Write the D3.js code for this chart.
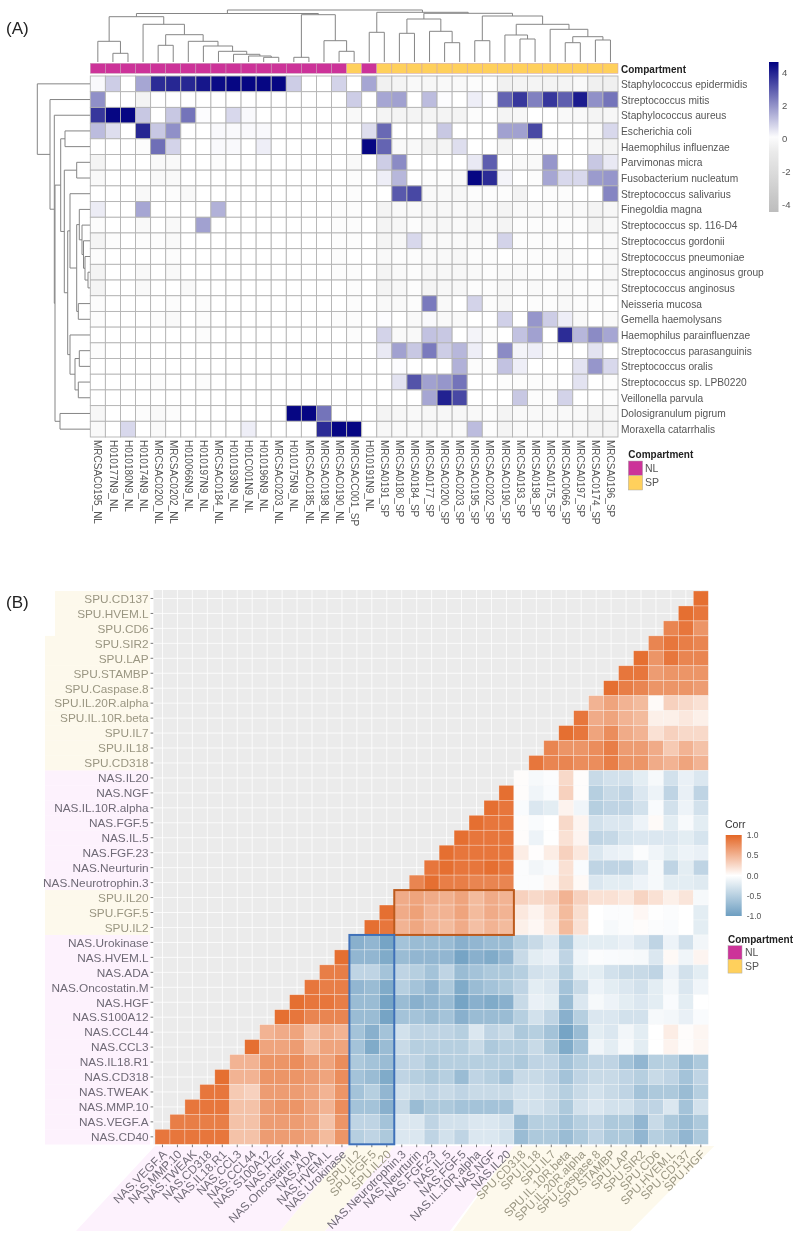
<!DOCTYPE html>
<html><head><meta charset="utf-8">
<script src="https://d3js.org/d3.v7.min.js"></script>
<style>html,body{margin:0;padding:0;background:#fff}svg{display:block;filter:blur(0.4px)}text{font-family:"Liberation Sans",Arial,sans-serif}</style>
</head><body><div id="c"></div>
<script>
// ---------- Panel A data ----------
const sampleLabels=["MRCSAC0195_NL","H010177N9_NL","H010180N9_NL","H010174N9_NL","MRCSAC0200_NL","MRCSAC0202_NL","H010066N9_NL","H010197N9_NL","MRCSAC0184_NL","H010193N9_NL","H01C001N9_NL","H010196N9_NL","MRCSAC0203_NL","H010175N9_NL","MRCSAC0185_NL","MRCSAC0198_NL","MRCSAC0190_NL","MRCSACC001_SP","H010191N9_NL","MRCSA0191_SP","MRCSA0180_SP","MRCSA0184_SP","MRCSA0177_SP","MRCSAC0200_SP","MRCSAC0203_SP","MRCSAC0195_SP","MRCSAC0202_SP","MRCSAC0190_SP","MRCSA0193_SP","MRCSA0198_SP","MRCSA0175_SP","MRCSAC0066_SP","MRCSA0197_SP","MRCSAC0174_SP","MRCSA0196_SP"];
const speciesLabels=["Staphylococcus epidermidis","Streptococcus mitis","Staphylococcus aureus","Escherichia coli","Haemophilus influenzae","Parvimonas micra","Fusobacterium nucleatum","Streptococcus salivarius","Finegoldia magna","Streptococcus sp. 116-D4","Streptococcus gordonii","Streptococcus pneumoniae","Streptococcus anginosus group","Streptococcus anginosus","Neisseria mucosa","Gemella haemolysans","Haemophilus parainfluenzae","Streptococcus parasanguinis","Streptococcus oralis","Streptococcus sp. LPB0220","Veillonella parvula","Dolosigranulum pigrum","Moraxella catarrhalis"];
const abundance=[
[.1,.9,0,1.6,3.8,3.9,3.9,4.2,4.4,4.5,4.5,4.5,4.5,.9,0,0,.8,0,1.6,-.25,-.2,-.1,-.15,-.1,-.1,-.05,-.05,-.25,-.2,-.2,-.2,-.2,-.1,-.3,-.3],
[2,0,0,-.2,0,0,0,0,0,0,0,0,0,0,0,0,0,.9,0,1.6,1.7,0,1.2,.05,0,.3,.05,2.8,3.6,2.3,3.6,2.9,4.1,2,2.5],
[3.6,4.5,4.5,1,0,1,2.5,.05,0,.7,.1,0,0,0,0,0,0,-.1,0,-.2,-.2,-.2,-.2,-.2,-.2,-.05,0,-.2,-.15,0,0,-.1,-.1,-.2,-.15],
[1.2,.6,0,3.9,1,2,0,0,.1,.1,.1,.1,0,0,0,0,0,0,.6,2.7,0,0,-.05,1,0,0,0,1.7,1.7,3.3,0,0,0,-.1,.7],
[0,0,0,-.05,2.6,.8,0,0,.1,.1,0,.3,0,0,0,0,0,0,4.5,2.8,-.1,-.1,-.25,-.2,.6,0,0,-.2,0,-.05,-.05,0,0,-.15,-.2],
[-.2,0,0,0,-.1,-.1,0,0,-.05,0,0,0,0,0,0,0,0,-.1,0,.9,2.1,0,0,0,0,.4,2.9,0,-.1,-.1,1.9,0,0,1,.4],
[-.1,0,0,0,-.1,-.1,0,0,0,0,0,0,0,0,0,0,0,-.05,0,.3,1.3,0,-.05,-.05,-.1,4.5,3.8,.2,0,-.05,1.6,.7,.7,1.8,1.9],
[0,0,0,-.1,0,-.05,-.1,0,0,0,0,0,0,0,0,0,0,-.05,0,0,3,3.3,-.1,-.1,-.15,-.05,-.05,-.05,-.2,0,-.05,-.05,0,0,2.2],
[.35,0,0,1.6,0,0,0,0,1.4,0,0,0,0,0,0,0,-.05,-.05,0,-.2,-.1,-.1,-.15,-.15,-.1,-.15,-.1,-.2,-.1,-.1,-.05,-.1,-.1,-.2,-.15],
[-.05,0,0,-.1,0,-.1,0,1.7,0,0,0,0,0,0,0,0,-.05,-.05,0,-.2,-.15,-.05,-.15,-.15,-.1,-.15,-.1,-.2,-.05,-.05,-.05,-.05,-.05,-.2,-.1],
[-.2,-.05,0,-.05,-.05,-.1,0,0,0,0,0,0,0,0,0,0,-.05,-.05,0,-.2,-.15,.7,-.1,-.1,-.1,-.1,-.05,.8,-.05,-.05,-.05,-.05,0,0,-.1],
[-.05,0,0,0,0,-.05,0,0,0,0,0,0,0,0,0,0,-.05,0,0,-.1,-.05,-.05,-.1,-.1,-.15,-.05,-.05,0,-.05,-.05,-.05,-.1,0,0,-.1],
[-.2,0,0,-.1,0,-.1,0,0,0,0,0,0,0,0,0,0,-.05,-.05,0,-.2,-.1,-.05,-.15,-.15,-.15,-.1,-.05,-.1,-.1,-.05,-.05,-.1,-.05,0,-.15],
[-.2,0,0,-.1,0,0,-.1,0,0,0,0,0,0,0,0,0,0,-.05,0,-.2,-.15,-.05,-.2,-.15,-.15,-.05,-.05,-.15,-.05,-.1,-.05,-.1,-.05,-.05,-.1],
[-.05,0,0,0,0,-.05,0,-.05,0,0,0,0,0,0,0,0,0,-.05,0,-.1,-.1,-.05,2.4,-.1,0,.8,-.05,-.15,0,-.05,-.05,-.1,-.05,-.05,0],
[-.05,0,0,0,-.05,-.1,0,-.05,0,0,0,0,0,0,0,0,-.05,-.05,0,.05,0,-.1,.1,-.1,-.1,0,0,.85,0,1.9,.9,.3,-.1,0,-.1],
[0,0,0,0,0,0,0,-.05,0,0,0,0,0,0,0,0,0,-.05,0,.8,-.1,-.1,1.1,1,0,.2,-.05,0,1.1,1.7,0,3.8,1.3,2.1,1.6],
[-.05,0,0,0,0,0,0,0,0,0,0,0,0,0,0,0,0,0,0,.4,1.7,1,2.4,.9,1.3,.3,0,2.1,.2,.3,-.05,0,0,.5,0],
[0,0,0,0,0,0,0,0,0,0,0,0,0,0,0,0,0,0,0,0,.05,0,0,0,1.4,-.05,-.05,1.1,.3,0,0,0,.5,1.9,.7],
[0,0,0,0,-.05,0,0,-.05,0,0,0,0,0,0,0,0,0,0,0,0,.5,3.1,1.7,1.9,2.5,0,0,-.05,-.05,-.05,-.05,0,.5,0,-.05],
[0,0,0,0,0,0,0,0,0,0,0,0,0,0,0,0,0,0,0,0,0,0,1.6,4,3.3,0,0,0,1,-.05,-.05,.8,0,0,-.05],
[-.15,0,0,-.05,-.1,-.05,0,0,0,0,0,0,0,4.5,4.5,2.5,0,0,0,-.2,-.15,-.1,-.15,-.15,-.15,-.1,-.05,-.2,-.1,-.1,-.1,-.1,-.1,-.2,-.15],
[-.1,0,.7,0,-.1,0,0,0,0,0,.3,0,0,0,0,3.8,4.5,4.5,0,-.15,-.1,-.1,-.15,-.1,-.1,1.2,-.05,-.2,-.1,-.1,-.1,-.1,-.15,-.2,-.2]];
const compartmentOfSample=["NL","NL","NL","NL","NL","NL","NL","NL","NL","NL","NL","NL","NL","NL","NL","NL","NL","SP","NL","SP","SP","SP","SP","SP","SP","SP","SP","SP","SP","SP","SP","SP","SP","SP","SP"];
// dendrogram merges as in hclust: positive = leaf index, negative = earlier merge (1-based); third = height
const columnMerges=[[1,2,8.7],[0,-1,20.7],[4,5,16.7],[11,12,4.7],[10,-4,6],[9,-5,7.7],[8,-6,10.7],[7,-7,16],[6,-8,20.7],[-3,-9,27.3],[3,-10,37.7],[-2,-11,45.3],[13,14,4.7],[16,17,10.7],[15,-14,21.3],[-13,-15,47.3],[-12,-16,48.5],[18,19,29.7],[20,21,28.7],[23,24,19.3],[22,-20,30.7],[-19,-21,43],[25,26,21.3],[28,29,23],[27,-24,27],[31,32,19.3],[33,34,22],[-26,-27,25.3],[30,-28,32.7],[-25,-29,37.7],[-23,-30,46],[-22,-31,48.7],[-18,-32,49.7],[-17,-33,52]];
const rowMerges=[[3,4,25],[5,6,13.3],[12,13,2],[11,-3,5],[10,-4,6.5],[9,-5,8],[8,-6,10.7],[14,15,11.7],[-7,-8,13.3],[7,-9,20],[17,18,10.7],[19,20,11.7],[-11,-12,15],[16,-13,20],[-10,-14,22.3],[-2,-15,25.7],[-1,-16,29.3],[21,22,30],[-17,-18,35],[2,-19,35.7],[1,-20,40],[0,-21,52.7]];
const abundanceTicks=[4,2,0,-2,-4];
const compartmentLevels=["NL","SP"];
const corrTicks=[1,.5,0,-.5,-1];
// ---------- Panel B data ----------
const corrCols=["NAS.VEGF.A","NAS.MMP.10","NAS.TWEAK","NAS.CD318","NAS.IL18.R1","NAS.CCL3","NAS.CCL44","NAS.S100A12","NAS.HGF","NAS.Oncostatin.M","NAS.ADA","NAS.HVEM.L","NAS.Urokinase","SPU.IL2","SPU.FGF.5","SPU.IL20","NAS.Neurotrophin.3","NAS.Neurturin","NAS.FGF.23","NAS.IL.5","NAS.FGF.5","NAS.IL.10R.alpha","NAS.NGF","NAS.IL20","SPU.CD318","SPU.IL18","SPU.IL7","SPU.IL.10R.beta","SPU.IL.20R.alpha","SPU.Caspase.8","SPU.STAMBP","SPU.LAP","SPU.SIR2","SPU.CD6","SPU.HVEM.L","SPU.CD137","SPU.HGF"];
const corrRowLabels=["SPU.CD137","SPU.HVEM.L","SPU.CD6","SPU.SIR2","SPU.LAP","SPU.STAMBP","SPU.Caspase.8","SPU.IL.20R.alpha","SPU.IL.10R.beta","SPU.IL7","SPU.IL18","SPU.CD318","NAS.IL20","NAS.NGF","NAS.IL.10R.alpha","NAS.FGF.5","NAS.IL.5","NAS.FGF.23","NAS.Neurturin","NAS.Neurotrophin.3","SPU.IL20","SPU.FGF.5","SPU.IL2","NAS.Urokinase","NAS.HVEM.L","NAS.ADA","NAS.Oncostatin.M","NAS.HGF","NAS.S100A12","NAS.CCL44","NAS.CCL3","NAS.IL18.R1","NAS.CD318","NAS.TWEAK","NAS.MMP.10","NAS.VEGF.A","NAS.CD40"];
// each row lists the right-hand end of the triangle: last value = last column
const corrRows=[
[.95],
[.95,.9],
[.8,.9,.7],
[.8,.9,.85,.8],
[.95,.7,.9,.8,.8],
[.9,.9,.65,.7,.7,.7],
[.95,.85,.8,.7,.7,.7,.65],
[.5,.6,.5,.45,.03,.3,.25,.2],
[.9,.55,.6,.5,.45,.1,.1,.15,.1],
[.95,.9,.6,.75,.55,.5,.2,.3,.25,.25],
[.8,.7,.7,.75,.85,.65,.65,.55,.35,.5,.4],
[.9,.8,.8,.75,.75,.85,.7,.7,.55,.5,.6,.5],
[.02,-.06,-.03,.25,.02,-.38,-.31,-.31,-.19,-.06,-.31,-.15,-.25],
[.95,.02,-.1,-.04,.3,.02,-.5,-.38,-.44,-.25,-.12,-.44,-.15,-.44],
[.95,.9,-.04,-.25,-.19,.08,-.1,-.5,-.44,-.44,-.31,-.04,-.31,-.12,-.31],
[.95,.9,.9,.02,-.04,0,.25,.07,-.31,-.25,-.25,-.12,.03,-.19,-.05,-.19],
[.95,.9,.9,.9,.02,-.12,-.01,.2,.07,-.44,-.4,-.28,-.25,-.25,-.25,-.19,-.28],
[.95,.9,.9,.9,.9,.12,.01,.12,.3,.15,-.25,-.15,-.12,-.03,-.1,-.19,-.12,-.15],
[.9,.95,.9,.9,.95,.9,-.03,-.09,-.05,.2,-.04,-.44,-.44,-.44,-.25,-.06,-.44,-.19,-.44],
[.8,.95,.85,.85,.8,.8,.8,-.03,-.03,.06,.22,.04,-.25,-.19,-.19,-.12,-.06,-.19,-.19,-.22],
[.55,.6,.55,.52,.6,.45,.55,.5,.3,.25,.3,.5,.3,.2,.2,.15,.28,.2,.1,.17,-.06],
[.95,.55,.62,.5,.5,.6,.45,.55,.5,.15,.08,.2,.45,.22,0,-.03,-.03,.05,-.01,-.03,0,-.19],
[.95,.9,.5,.58,.5,.45,.55,.42,.5,.45,.1,.05,.15,.45,.2,0,-.06,-.03,.02,-.03,-.04,0,-.19],
[-.81,-.75,-.94,-.62,-.69,-.69,-.69,-.81,-.75,-.69,-.69,-.5,-.38,-.25,-.56,-.19,-.19,-.19,-.15,-.25,-.44,-.12,-.31,-.09],
[.95,-.75,-.75,-.87,-.69,-.75,-.75,-.75,-.94,-.81,-.87,-.75,-.38,-.19,-.15,-.44,-.1,-.03,-.04,-.05,-.06,-.25,.04,-.1,.07],
[.85,.85,-.44,-.44,-.62,-.44,-.5,-.62,-.44,-.69,-.62,-.56,-.56,-.5,-.31,-.28,-.5,-.19,-.19,-.31,-.38,-.38,-.44,-.12,-.31,-.19],
[.9,.85,.85,-.75,-.69,-.87,-.5,-.62,-.75,-.56,-.87,-.69,-.62,-.56,-.44,-.19,-.25,-.62,-.38,-.12,-.19,-.25,-.31,-.19,-.08,-.25,-.1],
[.95,.9,.9,.85,-.69,-.69,-.94,-.69,-.81,-.75,-.69,-.94,-.81,-.87,-.81,-.38,-.15,-.19,-.69,-.25,-.06,-.12,-.19,-.25,-.19,-.04,-.19,0],
[.95,.9,.8,.8,.8,-.69,-.69,-.94,-.62,-.62,-.69,-.62,-.81,-.69,-.69,-.69,-.5,-.31,-.44,-.81,-.5,-.25,-.25,-.31,-.31,-.06,-.08,-.15,-.04],
[.5,.55,.6,.4,.55,.5,-.62,-.81,-.62,-.31,-.44,-.44,-.44,-.5,-.25,-.44,-.38,-.56,-.5,-.62,-.94,-.69,-.19,-.25,-.09,-.19,0,.12,.02,.06],
[.95,.6,.6,.65,.45,.6,.6,-.62,-.87,-.69,-.38,-.5,-.5,-.5,-.5,-.38,-.56,-.5,-.5,-.38,-.56,-.87,-.62,-.1,-.19,-.06,-.19,0,.08,.02,.06],
[.5,.5,.7,.7,.75,.65,.6,.75,-.56,-.62,-.69,-.44,-.44,-.56,-.5,-.5,-.5,-.5,-.5,-.56,-.44,-.44,-.62,-.5,-.44,-.44,-.62,-.75,-.5,-.5,-.69,-.56],
[.95,.5,.5,.7,.7,.7,.65,.6,.75,-.62,-.69,-.87,-.44,-.5,-.56,-.5,-.69,-.44,-.5,-.62,-.38,-.38,-.44,-.62,-.44,-.38,-.38,-.44,-.5,-.38,-.44,-.62,-.44],
[.9,.9,.35,.3,.65,.65,.65,.6,.5,.7,-.62,-.5,-.75,-.31,-.38,-.44,-.38,-.44,-.38,-.38,-.38,-.31,-.31,-.38,-.5,-.38,-.31,-.38,-.44,-.62,-.56,-.56,-.69,-.5],
[.9,.9,.9,.4,.4,.65,.7,.7,.6,.5,.75,-.62,-.62,-.81,-.38,-.69,-.56,-.56,-.62,-.62,-.62,-.62,-.31,-.31,-.38,-.56,-.31,-.25,-.31,-.31,-.44,-.44,-.25,-.62,-.31],
[.85,.85,.85,.85,.4,.4,.65,.65,.65,.6,.4,.7,-.44,-.44,-.62,-.25,-.25,-.44,-.31,-.31,-.25,-.25,-.31,-.69,-.5,-.5,-.62,-.5,-.44,-.56,-.56,-.75,-.38,-.56,-.69,-.56],
[.9,.9,.9,.9,.9,.4,.4,.65,.65,.65,.6,.45,.7,-.5,-.44,-.56,-.25,-.25,-.44,-.31,-.44,-.25,-.25,-.31,-.69,-.56,-.56,-.69,-.56,-.44,-.56,-.56,-.75,-.5,-.56,-.75,-.56]];

const W=800,H=1240;
const svg=d3.select("#c").append("svg").attr("width",W).attr("height",H).attr("viewBox",`0 0 ${W} ${H}`);
const gray="#555";
// ---------- Panel A ----------
const NLc="#cc3399",SPc="#ffd05c",line="#b4b4b4";
const xA=d3.scaleBand().domain(d3.range(sampleLabels.length)).range([90.3,618]);
const yA=d3.scaleBand().domain(d3.range(speciesLabels.length)).range([76,437]);
const colA=d3.scaleLinear().domain([-4.6,-.25,0,4.6]).range(["#bcbcbc","#f1f1f1","#ffffff","#000080"]);
const catCol=d3.scaleOrdinal().domain(compartmentLevels).range([NLc,SPc]);
svg.append("text").attr("x",6).attr("y",34).attr("font-size",17).attr("fill","#222").text("(A)");
// heat cells
const cellsA=svg.append("g");
abundance.forEach((row,r)=>row.forEach((v,c)=>{
  cellsA.append("rect").attr("x",xA(c)).attr("y",yA(r)).attr("width",xA.bandwidth()).attr("height",yA.bandwidth())
    .attr("fill",colA(v)).attr("stroke",line).attr("stroke-width",.9);
}));
// annotation bar
svg.append("g").selectAll("rect").data(compartmentOfSample).join("rect")
  .attr("x",(d,i)=>xA(i)).attr("y",63.3).attr("width",xA.bandwidth()).attr("height",10)
  .attr("fill",d=>catCol(d)).attr("stroke","#c9a0b8").attr("stroke-width",.5);
svg.append("text").attr("x",621).attr("y",72.5).attr("font-size",10).attr("font-weight","bold").attr("fill","#222").text("Compartment");
// row labels
svg.append("g").selectAll("text").data(speciesLabels).join("text")
  .attr("x",621).attr("y",(d,i)=>yA(i)+yA.bandwidth()/2+4).attr("font-size",10.2).attr("fill",gray).text(d=>d);
// column labels
svg.append("g").selectAll("text").data(sampleLabels).join("text")
  .attr("transform",(d,i)=>`translate(${xA(i)+xA.bandwidth()/2-3.4},440) rotate(90)`)
  .attr("font-size",10).attr("fill",gray).text(d=>d);
// dendrograms
function layoutDend(merges,pos){
  const nodes=[];
  const at=k=>k>=0?{p:pos(k),h:0}:nodes[-k-1];
  merges.forEach(([a,b,h])=>{const A=at(a),B=at(b);nodes.push({a:A,b:B,h,p:(A.p+B.p)/2});});
  return nodes;
}
const hTop=d3.scaleLinear().domain([0,52]).range([62,10]);
const dTop=d3.path();
layoutDend(columnMerges,i=>xA(i)+xA.bandwidth()/2).forEach(n=>{
  dTop.moveTo(n.a.p,hTop(n.a.h));dTop.lineTo(n.a.p,hTop(n.h));dTop.lineTo(n.b.p,hTop(n.h));dTop.lineTo(n.b.p,hTop(n.b.h));
});
svg.append("path").attr("d",dTop.toString()).attr("fill","none").attr("stroke","#858585").attr("stroke-width",1);
const hLeft=d3.scaleLinear().domain([0,52.7]).range([90,37.3]);
const dLeft=d3.path();
layoutDend(rowMerges,i=>yA(i)+yA.bandwidth()/2).forEach(n=>{
  dLeft.moveTo(hLeft(n.a.h),n.a.p);dLeft.lineTo(hLeft(n.h),n.a.p);dLeft.lineTo(hLeft(n.h),n.b.p);dLeft.lineTo(hLeft(n.b.h),n.b.p);
});
svg.append("path").attr("d",dLeft.toString()).attr("fill","none").attr("stroke","#858585").attr("stroke-width",1);
// legends A
const defs=svg.append("defs");
const scaleLegA=d3.scaleLinear().domain([4,-4]).range([72,204]);
const gA=defs.append("linearGradient").attr("id","gA").attr("x1",0).attr("x2",0).attr("y1",0).attr("y2",1);
d3.range(0,1.0001,.1).forEach(t=>{const v=scaleLegA.invert(62+150*t);gA.append("stop").attr("offset",t).attr("stop-color",colA(v));});
svg.append("rect").attr("x",769).attr("y",62).attr("width",9.5).attr("height",150).attr("fill","url(#gA)");
svg.append("g").selectAll("text").data(abundanceTicks).join("text").attr("x",782).attr("y",d=>scaleLegA(d)+3.5)
  .attr("font-size",9.5).attr("fill",gray).text(d=>d);
function catLegend(x,titleY,top,step,sw,lx){
  svg.append("text").attr("x",x).attr("y",titleY).attr("font-size",10).attr("font-weight","bold").attr("fill","#222").text("Compartment");
  compartmentLevels.forEach((c,i)=>{
    svg.append("rect").attr("x",x).attr("y",top+i*step).attr("width",sw).attr("height",step).attr("fill",catCol(c)).attr("stroke","#aaa").attr("stroke-width",.5);
    svg.append("text").attr("x",lx).attr("y",top+i*step+step/2+3.5).attr("font-size",10.5).attr("fill",gray).text(c);
  });
}
catLegend(628.3,457.5,461,14.5,14.3,645);
// ---------- Panel B ----------
svg.append("text").attr("x",6).attr("y",608).attr("font-size",17).attr("fill","#222").text("(B)");
const xB=d3.scaleBand().domain(corrCols.map((d,i)=>i)).range([155,708.3]);
const yB=d3.scaleBand().domain(corrRowLabels.map((d,i)=>i)).range([591,1144.3]);
const colB=d3.scaleLinear().domain([-1,0,1]).range(["#6D9EC1","#ffffff","#E46726"]);
const nasBg="#fdf2fd",spuBg="#fdf9ec";
const isNas=s=>s.startsWith("NAS");
// highlight strips behind y labels
corrRowLabels.forEach((s,i)=>{
  const lft=i<3?55:45;
  svg.append("rect").attr("x",lft).attr("y",yB(i)).attr("width",150-lft).attr("height",yB.bandwidth()+.2).attr("fill",isNas(s)?nasBg:spuBg);
});
// highlight strips behind x labels
const bot=1231,topS=1146;
[[0,13,79,69,nasBg],[13,16,69,69,spuBg],[16,24,69,64,nasBg],[24,37,61,84,spuBg]].forEach(([a,b,sl,sr,f])=>{
  const x0=xB(a),x1=b<37?xB(b):708.3+6;
  svg.append("path").attr("d",d3.line()([[x0,topS],[x1,topS],[x1-sr,bot],[x0-sl,bot]])).attr("fill",f);
});
// panel and grid
svg.append("rect").attr("x",153.5).attr("y",590).attr("width",554.8).attr("height",554.3).attr("fill","#ebebeb");
const gridG=svg.append("g").attr("stroke","#fff").attr("stroke-width",.8);
corrCols.forEach((d,i)=>gridG.append("line").attr("x1",xB(i)+xB.bandwidth()/2).attr("x2",xB(i)+xB.bandwidth()/2).attr("y1",590).attr("y2",1144.3));
corrRowLabels.forEach((d,i)=>gridG.append("line").attr("y1",yB(i)+yB.bandwidth()/2).attr("y2",yB(i)+yB.bandwidth()/2).attr("x1",153.5).attr("x2",708.3));
// cells
const cellsB=svg.append("g");
corrRows.forEach((row,r)=>row.forEach((v,k)=>{
  const c=corrCols.length-row.length+k;
  cellsB.append("rect").attr("x",xB(c)).attr("y",yB(r)).attr("width",xB.bandwidth()).attr("height",yB.bandwidth())
    .attr("fill",colB(v)).attr("stroke","rgba(255,255,255,.45)").attr("stroke-width",.6);
}));
// ticks and labels
const nasText="#6f6a76",spuText="#9a9682";
const yTicks=svg.append("g").attr("stroke","#555").attr("stroke-width",.8);
corrRowLabels.forEach((d,i)=>yTicks.append("line").attr("x1",150.6).attr("x2",153.2).attr("y1",yB(i)+yB.bandwidth()/2).attr("y2",yB(i)+yB.bandwidth()/2));
const xTicks=svg.append("g").attr("stroke","#555").attr("stroke-width",.8);
corrCols.forEach((d,i)=>xTicks.append("line").attr("y1",1144.6).attr("y2",1147.2).attr("x1",xB(i)+xB.bandwidth()/2).attr("x2",xB(i)+xB.bandwidth()/2));
svg.append("g").selectAll("text").data(corrRowLabels).join("text")
  .attr("x",148.6).attr("y",(d,i)=>yB(i)+yB.bandwidth()/2+4.3).attr("text-anchor","end").attr("font-size",11.8)
  .attr("fill",d=>isNas(d)?nasText:spuText).text(d=>d);
svg.append("g").selectAll("text").data(corrCols).join("text")
  .attr("transform",(d,i)=>`translate(${xB(i)+xB.bandwidth()/2+5},1155) rotate(-45)`)
  .attr("text-anchor","end").attr("font-size",11.8).attr("fill",d=>isNas(d)?nasText:spuText).text(d=>d);
// boxes
svg.append("rect").attr("x",xB(16)).attr("y",yB(20)).attr("width",xB(24)-xB(16)).attr("height",yB(23)-yB(20))
  .attr("fill","none").attr("stroke","#bd5a1c").attr("stroke-width",2);
svg.append("rect").attr("x",xB(13)).attr("y",yB(23)).attr("width",xB(16)-xB(13)).attr("height",1144.3-yB(23))
  .attr("fill","none").attr("stroke","#3f71b9").attr("stroke-width",2);
// legends B
const scaleLegB=d3.scaleLinear().domain([1,-1]).range([835,916]);
const gB=defs.append("linearGradient").attr("id","gB").attr("x1",0).attr("x2",0).attr("y1",0).attr("y2",1);
[0,.25,.5,.75,1].forEach(t=>gB.append("stop").attr("offset",t).attr("stop-color",colB(scaleLegB.invert(835+81*t))));
svg.append("text").attr("x",725).attr("y",828).attr("font-size",10.5).attr("fill","#333").text("Corr");
svg.append("rect").attr("x",725.7).attr("y",835).attr("width",16).attr("height",81).attr("fill","url(#gB)");
svg.append("g").selectAll("text").data(corrTicks).join("text").attr("x",746.7).attr("y",d=>scaleLegB(d)+3)
  .attr("font-size",8.5).attr("fill",gray).text(d=>d.toFixed(1));
catLegend(728,942.5,945.7,13.7,14,745);
</script></body></html>
